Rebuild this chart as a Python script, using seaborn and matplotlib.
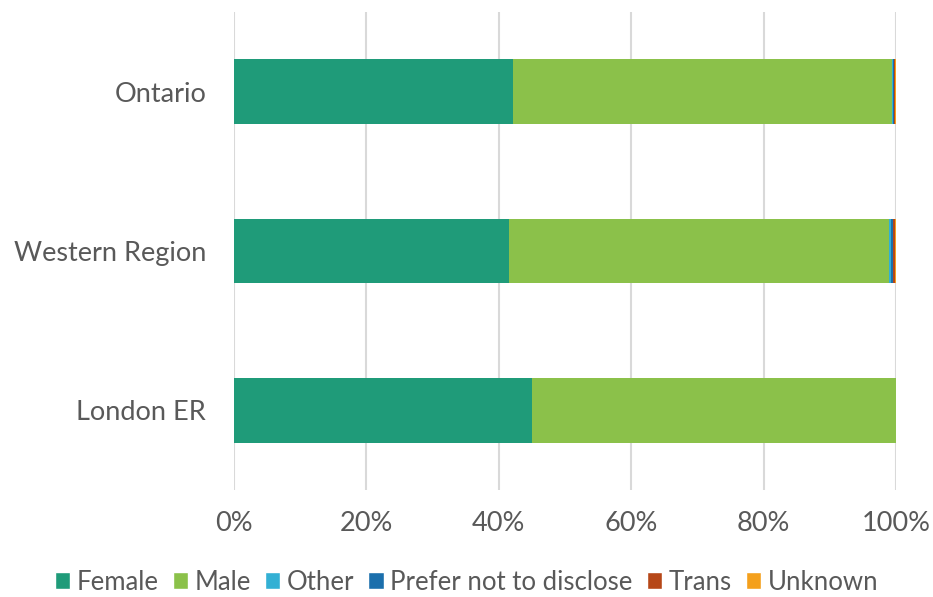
import numpy as np
import pandas as pd
import seaborn as sns
import matplotlib.pyplot as plt
from matplotlib.patches import Patch

# Regions from top to bottom
regions = ["Ontario", "Western Region", "London ER"]

# Percent shares per gender category
female = [42.1, 41.5, 45.0]
male = [57.25, 57.5, 55.0]
other = [0.15, 0.3, 0.0]
prefer_not = [0.15, 0.2, 0.0]
trans = [0.25, 0.3, 0.0]
unknown = [0.1, 0.2, 0.0]

series_names = ["Female", "Male", "Other", "Prefer not to disclose", "Trans", "Unknown"]
series_vals = [female, male, other, prefer_not, trans, unknown]
colors = ["#1f9b79", "#8bc14a", "#33b0d4", "#1b6fac", "#b64718", "#f4a01c"]

sns.set_theme(style="white")
plt.rcParams["font.family"] = ["Lato", "DejaVu Sans"]

df = pd.DataFrame({"region": regions})
cum = np.zeros(len(regions))
cums = []
for vals in series_vals:
    cum = cum + np.array(vals)
    cums.append(cum.copy())

fig = plt.figure(figsize=(9.33, 5.97), dpi=100)
ax = fig.add_axes([234 / 933, 1 - 490 / 597, 662 / 933, 478 / 597])

# draw cumulative bars back to front so they look stacked
for name, c, col in reversed(list(zip(series_names, cums, colors))):
    d = df.copy()
    d["val"] = c
    sns.barplot(data=d, x="val", y="region", color=col, width=0.405,
                saturation=1, ax=ax, orient="h", linewidth=0, edgecolor="none")

ax.set_xlim(0, 100)
ax.set_ylim(2.5, -0.5)
ax.set_xticks(range(0, 101, 20))
ax.set_xticklabels([f"{t}%" for t in range(0, 101, 20)])
ax.xaxis.grid(True, color="#d9d9d9", lw=1.5)
ax.set_axisbelow(True)
for s in ax.spines.values():
    s.set_visible(False)
ax.set_xlabel("")
ax.set_ylabel("")
ax.tick_params(axis="both", length=0, labelsize=19.5, colors="#595959")
ax.tick_params(axis="x", pad=15)
ax.tick_params(axis="y", pad=20)

handles = [Patch(facecolor=col, label=n) for n, col in zip(series_names, colors)]
fig.legend(handles=handles, loc="center", bbox_to_anchor=(0.5, 1 - 582 / 597),
           ncol=6, frameon=False, fontsize=18.5, handlelength=0.6, handleheight=0.6,
           handletextpad=0.25, columnspacing=0.55, labelcolor="#595959",
           borderpad=0.1)

fig.savefig("out.png", dpi=100)
